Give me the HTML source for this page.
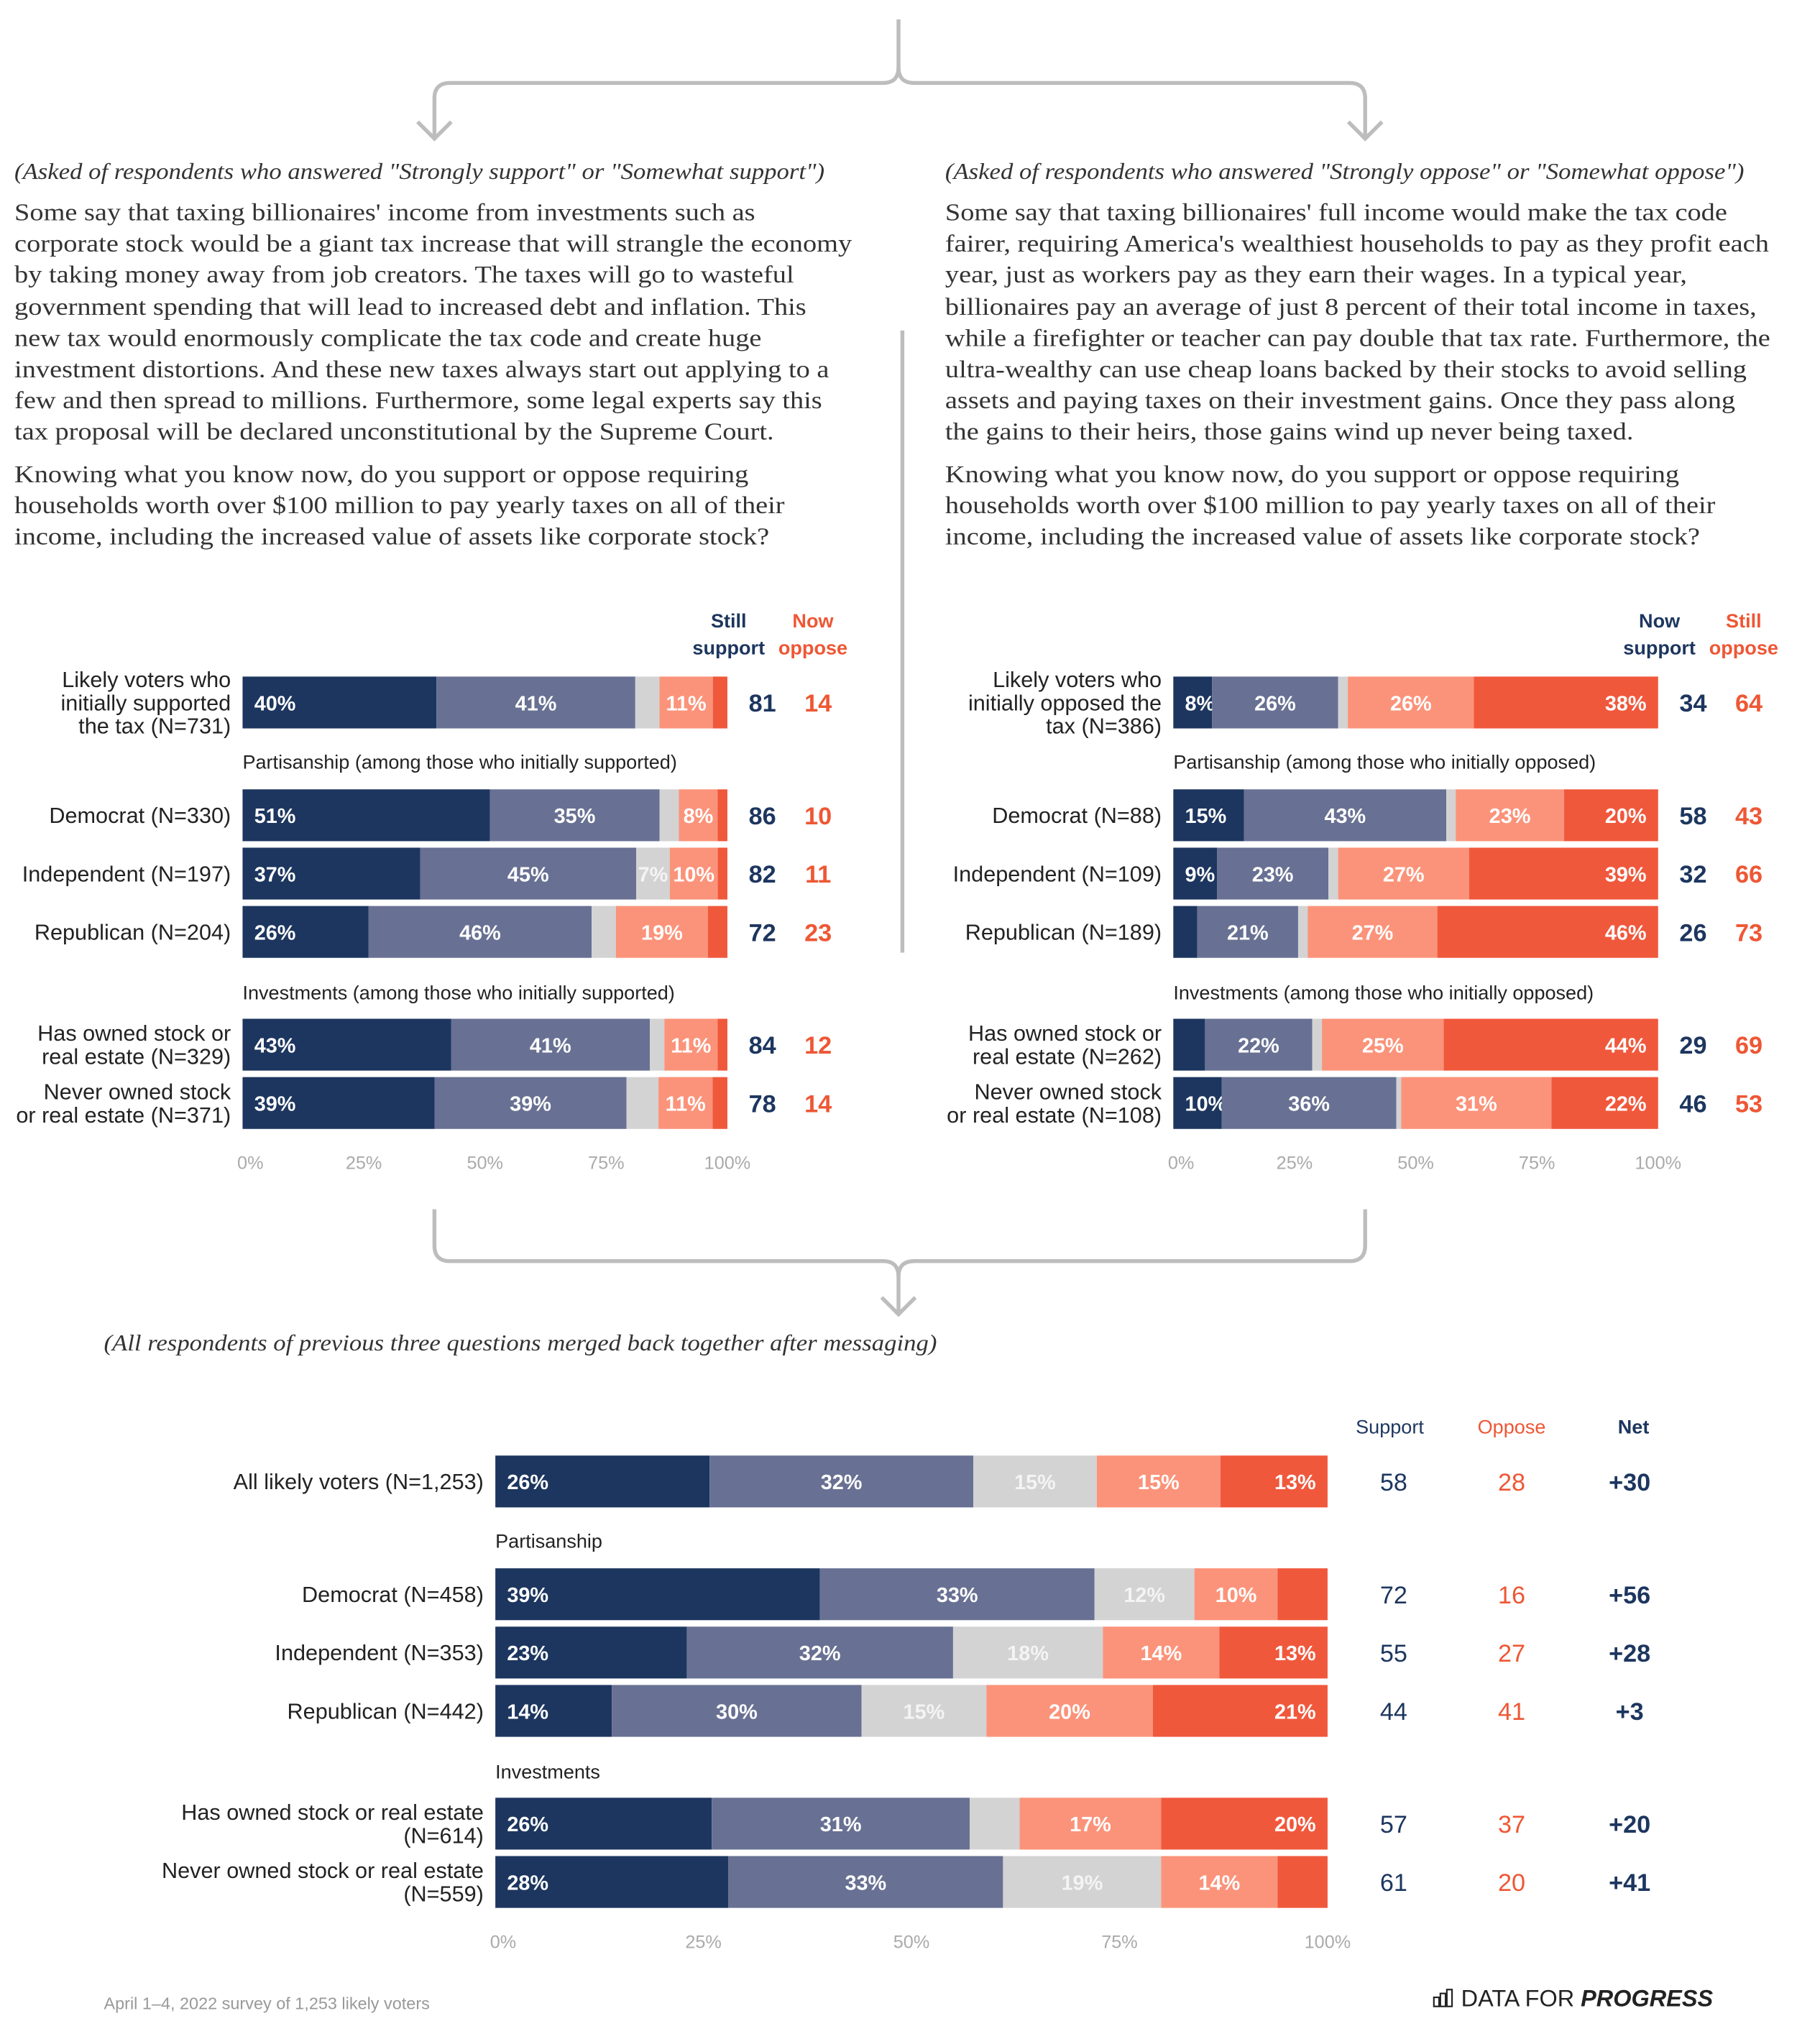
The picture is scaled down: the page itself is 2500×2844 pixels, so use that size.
<!DOCTYPE html>
<html><head><meta charset="utf-8">
<style>
html,body{margin:0;padding:0;background:#fff;}
svg{display:block;}
.serif{font-family:"Liberation Serif",serif;fill:#333;}
.sans{font-family:"Liberation Sans",sans-serif;}
</style></head>
<body>
<svg id="root" width="2500" height="2844" viewBox="0 0 1386 1577" xmlns="http://www.w3.org/2000/svg">
<g fill="none" stroke="#bdbdbd" stroke-width="3">
<path d="M693 15 V52 Q693 64 681 64 H347 Q335 64 335 76 V106"/>
<path d="M322 94 L335 107 L348 94"/>
<path d="M693 52 Q693 64 705 64 H1041 Q1053 64 1053 76 V106"/>
<path d="M1040 94 L1053 107 L1066 94"/>
</g>
<line x1="696" y1="255" x2="696" y2="735" stroke="#bdbdbd" stroke-width="3"/>
<g class="serif" font-size="18.5">
<text x="11" y="138" font-style="italic" font-size="17.5" transform="translate(11,0) scale(1.1,1) translate(-11,0)">(Asked of respondents who answered "Strongly support" or "Somewhat support")</text>
<g transform="translate(11,0) scale(1.15,1) translate(-11,0)">
<text x="11" y="170">Some say that taxing billionaires' income from investments such as</text>
<text x="11" y="194">corporate stock would be a giant tax increase that will strangle the economy</text>
<text x="11" y="218">by taking money away from job creators. The taxes will go to wasteful</text>
<text x="11" y="243">government spending that will lead to increased debt and inflation. This</text>
<text x="11" y="267">new tax would enormously complicate the tax code and create huge</text>
<text x="11" y="291">investment distortions. And these new taxes always start out applying to a</text>
<text x="11" y="315">few and then spread to millions. Furthermore, some legal experts say this</text>
<text x="11" y="339">tax proposal will be declared unconstitutional by the Supreme Court.</text>
<text x="11" y="372">Knowing what you know now, do you support or oppose requiring</text>
<text x="11" y="396">households worth over $100 million to pay yearly taxes on all of their</text>
<text x="11" y="420">income, including the increased value of assets like corporate stock?</text>
</g>
</g>
<g class="serif" font-size="18.5">
<text x="729" y="138" font-style="italic" font-size="17.5" transform="translate(729,0) scale(1.1,1) translate(-729,0)">(Asked of respondents who answered "Strongly oppose" or "Somewhat oppose")</text>
<g transform="translate(729,0) scale(1.15,1) translate(-729,0)">
<text x="729" y="170">Some say that taxing billionaires' full income would make the tax code</text>
<text x="729" y="194">fairer, requiring America's wealthiest households to pay as they profit each</text>
<text x="729" y="218">year, just as workers pay as they earn their wages. In a typical year,</text>
<text x="729" y="243">billionaires pay an average of just 8 percent of their total income in taxes,</text>
<text x="729" y="267">while a firefighter or teacher can pay double that tax rate. Furthermore, the</text>
<text x="729" y="291">ultra-wealthy can use cheap loans backed by their stocks to avoid selling</text>
<text x="729" y="315">assets and paying taxes on their investment gains. Once they pass along</text>
<text x="729" y="339">the gains to their heirs, those gains wind up never being taxed.</text>
<text x="729" y="372">Knowing what you know now, do you support or oppose requiring</text>
<text x="729" y="396">households worth over $100 million to pay yearly taxes on all of their</text>
<text x="729" y="420">income, including the increased value of assets like corporate stock?</text>
</g>
</g>
<g fill="none" stroke="#bdbdbd" stroke-width="3">
<path d="M335 933 V961 Q335 973 347 973 H681 Q693 973 693 985 V1013"/>
<path d="M1053 933 V961 Q1053 973 1041 973 H705 Q693 973 693 985"/>
<path d="M680 1001 L693 1014 L706 1001"/>
</g>
<text class="serif" x="80" y="1042" font-style="italic" font-size="17.5" transform="translate(80,0) scale(1.1,1) translate(-80,0)">(All respondents of previous three questions merged back together after messaging)</text>
<text class="sans" x="80" y="1550" font-size="13" fill="#999">April 1–4, 2022 survey of 1,253 likely voters</text>
<g>
<g fill="none" stroke="#222" stroke-width="1.2"><rect x="1106" y="1541" width="4" height="7"/><rect x="1111" y="1538" width="4" height="10"/><rect x="1116" y="1535" width="4" height="13"/></g>
<text class="sans" x="1127" y="1548" font-size="18" fill="#222">DATA FOR <tspan font-weight="bold" font-style="italic">PROGRESS</tspan></text>
</g>
<g id="charts"></g>
</svg>
<script>
// Left chart (initial supporters)
const leftCats = [["Likely voters who","initially supported","the tax (N=731)"],["Democrat (N=330)"],["Independent (N=197)"],["Republican (N=204)"],["Has owned stock or","real estate (N=329)"],["Never owned stock","or real estate (N=371)"]];
const leftStrongSup = [40,51,37,26,43,39];
const leftSomeSup = [41,35,45,46,41,39];
const leftNeutral = [5,4,7,5,3,6.5];
const leftSomeOpp = [11,8,10,19,11,11];
const leftStrongOpp = [3,2,2,4,2,3];
const leftTotSup = [81,86,82,72,84,78];
const leftTotOpp = [14,10,11,23,12,14];
// Right chart (initial opposers)
const rightCats = [["Likely voters who","initially opposed the","tax (N=386)"],["Democrat (N=88)"],["Independent (N=109)"],["Republican (N=189)"],["Has owned stock or","real estate (N=262)"],["Never owned stock","or real estate (N=108)"]];
const rightStrongSup = [8,15,9,5,6.5,10];
const rightSomeSup = [26,43,23,21,22,36];
const rightNeutral = [2,2,2,2,2,1];
const rightSomeOpp = [26,23,27,27,25,31];
const rightStrongOpp = [38,20,39,46,44,22];
const rightTotSup = [34,58,32,26,29,46];
const rightTotOpp = [64,43,66,73,69,53];
// Bottom chart (merged)
const botCats = [["All likely voters (N=1,253)"],["Democrat (N=458)"],["Independent (N=353)"],["Republican (N=442)"],["Has owned stock or real estate","(N=614)"],["Never owned stock or real estate","(N=559)"]];
const botStrongSup = [26,39,23,14,26,28];
const botSomeSup = [32,33,32,30,31,33];
const botNeutral = [15,12,18,15,6,19];
const botSomeOpp = [15,10,14,20,17,14];
const botStrongOpp = [13,6,13,21,20,6];
const botSupport = [58,72,55,44,57,61];
const botOppose = [28,16,27,41,37,20];
const botNet = ["+30","+56","+28","+3","+20","+41"];
const axisTicks = [0,25,50,75,100];
const axisTickLabels = ["0%","25%","50%","75%","100%"];

const NS = "http://www.w3.org/2000/svg";
const COLORS = ["#1d365f","#687193","#d3d3d3","#fb937a","#f0583c"];
const NAVY = "#1d365f", RED = "#ee5735";
const root = document.getElementById("charts");

function mk(tag, attrs, parent, txt){
  const e = document.createElementNS(NS, tag);
  for (const k in attrs) e.setAttribute(k, attrs[k]);
  if (txt !== undefined) e.textContent = txt;
  parent.appendChild(e);
  return e;
}

function drawChart(cfg){
  const g = mk("g", {}, root);
  
  
  const xs = v => cfg.x0 + (cfg.x1 - cfg.x0) * v / 100;
  cfg.cats.forEach((lines, i) => {
    const y = cfg.rowY[i], h = 40;
    const vals = cfg.series.map(s => s[i]);
    const tot = vals.reduce((a,b)=>a+b,0);
    let acc = 0;
    const row = mk("g", {}, g);
    
    
    const lh = cfg.labelLH;
    const startY = y + h/2 - (lines.length-1)*lh/2 + 6;
    lines.forEach((ln, j) => {
      const t = mk("text", {x: cfg.x0 - 9, y: startY + j*lh, "text-anchor":"end", "font-size": cfg.labelFS, fill:"#222", class:"sans"}, row, ln);
      
      
    });
    vals.forEach((v, k) => {
      const a = xs(acc/tot*100), b = xs((acc+v)/tot*100);
      const r = mk("rect", {x:a, y:y, width:Math.max(0,b-a), height:h, fill:COLORS[k]}, row);
      
      
      if (v >= 7) {
        let tx, anchor;
        if (k === 0) { tx = a + 9; anchor = "start"; }
        else if (k === 4) { tx = b - 9; anchor = "end"; }
        else { tx = (a+b)/2; anchor = "middle"; }
        const t = mk("text", {x:tx, y:y+h/2+6, "text-anchor":anchor, "font-size":16, "font-weight":"bold", fill: k===2 ? "#f4f4f4" : "#fff", class:"sans"}, row, Math.round(v) + "%");
        
        
      }
      acc += v;
    });
    cfg.cols.forEach(c => {
      const t = mk("text", {x:c.x, y:y+h/2+7, "text-anchor":"middle", "font-size":c.fs, "font-weight":c.bold?"bold":"normal", fill:c.color, class:"sans"}, row, c.data[i]);
      
      
    });
  });
  cfg.cols.forEach(c => {
    c.head.forEach((ln, j) => {
      const t = mk("text", {x:c.hx, y:cfg.headY + j*21, "text-anchor":"middle", "font-size":15, "font-weight":c.headBold?"bold":"normal", fill:c.color, class:"sans"}, g, ln);
      
      
    });
  });
  cfg.sections.forEach(s => {
    const t = mk("text", {x:cfg.x0, y:s.y, "font-size":15, fill:"#222", class:"sans"}, g, s.text);
    
    
  });
  axisTicks.forEach((v, i) => {
    const t = mk("text", {x:xs(v) + (i===0?6:0), y:cfg.axisY, "text-anchor":"middle", "font-size":14, fill:"#aaa", class:"sans"}, g, axisTickLabels[i]);
    
    
  });
}

drawChart({name:"left-chart", cats:leftCats, x0:187, x1:561,
  series:[leftStrongSup,leftSomeSup,leftNeutral,leftSomeOpp,leftStrongOpp],
  rowY:[522,609,654,699,786,831], labelFS:17, labelLH:18, headY:484, axisY:902,
  cols:[{x:588,hx:562,data:leftTotSup,color:NAVY,fs:19,bold:true,head:["Still","support"],headBold:true,name:"still-support-total"},
        {x:631,hx:627,data:leftTotOpp,color:RED,fs:19,bold:true,head:["Now","oppose"],headBold:true,name:"now-oppose-total"}],
  sections:[{y:593,text:"Partisanship (among those who initially supported)"},{y:771,text:"Investments (among those who initially supported)"}]});

drawChart({name:"right-chart", cats:rightCats, x0:905, x1:1279,
  series:[rightStrongSup,rightSomeSup,rightNeutral,rightSomeOpp,rightStrongOpp],
  rowY:[522,609,654,699,786,831], labelFS:17, labelLH:18, headY:484, axisY:902,
  cols:[{x:1306,hx:1280,data:rightTotSup,color:NAVY,fs:19,bold:true,head:["Now","support"],headBold:true,name:"now-support-total"},
        {x:1349,hx:1345,data:rightTotOpp,color:RED,fs:19,bold:true,head:["Still","oppose"],headBold:true,name:"still-oppose-total"}],
  sections:[{y:593,text:"Partisanship (among those who initially opposed)"},{y:771,text:"Investments (among those who initially opposed)"}]});

drawChart({name:"merged-chart", cats:botCats, x0:382, x1:1024,
  series:[botStrongSup,botSomeSup,botNeutral,botSomeOpp,botStrongOpp],
  rowY:[1123,1210,1255,1300,1387,1432], labelFS:17, labelLH:18, headY:1106, axisY:1503,
  cols:[{x:1075,hx:1072,data:botSupport,color:NAVY,fs:19,bold:false,head:["Support"],headBold:false,name:"support-total"},
        {x:1166,hx:1166,data:botOppose,color:RED,fs:19,bold:false,head:["Oppose"],headBold:false,name:"oppose-total"},
        {x:1257,hx:1260,data:botNet,color:NAVY,fs:19,bold:true,head:["Net"],headBold:true,name:"net-total"}],
  sections:[{y:1194,text:"Partisanship"},{y:1372,text:"Investments"}]});
</script>
</body></html>
